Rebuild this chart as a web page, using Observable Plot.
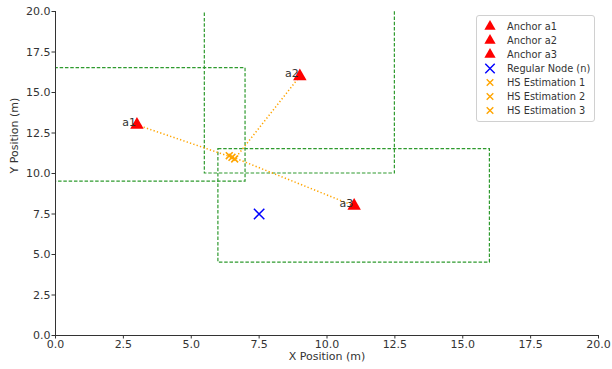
<!DOCTYPE html>
<html><head><meta charset="utf-8">
<script src="https://cdn.jsdelivr.net/npm/d3@7"></script>
<script src="https://cdn.jsdelivr.net/npm/@observablehq/plot@0.6"></script>
<style>
body{margin:0;background:#fff;font-family:"DejaVu Sans",sans-serif}
#wrap{position:relative;width:612px;height:369px}
#legend{position:absolute;left:476px;top:15px;width:119px;height:107px;border:1px solid #d0d0d0;border-radius:3px;background:rgba(255,255,255,0.85);box-sizing:border-box;font-size:9.8px;color:#333}
.row{position:absolute;left:0;height:14px;display:flex;align-items:center;white-space:nowrap}
.row svg{display:block}
</style></head><body><div id="wrap"></div>
<script>
// Data
const anchorNames = ["a1", "a2", "a3"];
const anchorX = [3, 9, 11];
const anchorY = [13, 16, 8];
const nodeX = [7.5];
const nodeY = [7.5];
const estX = [6.5, 6.6, 6.4];
const estY = [11.0, 10.9, 11.1];
const boxX1 = [-1, 5.5, 6];
const boxX2 = [7, 12.5, 16];
const boxY1 = [9.5, 10, 4.5];
const boxY2 = [16.5, 22, 11.5];
const tickValues = [0, 2.5, 5, 7.5, 10, 12.5, 15, 17.5, 20];
const legendLabels = ["Anchor a1", "Anchor a2", "Anchor a3", "Regular Node (n)", "HS Estimation 1", "HS Estimation 2", "HS Estimation 3"];

const anchors = anchorNames.map((n, i) => ({name: n, x: anchorX[i], y: anchorY[i]}));
const nodes = nodeX.map((x, i) => ({x, y: nodeY[i]}));
const ests = estX.map((x, i) => ({x, y: estY[i], ax: anchorX[i], ay: anchorY[i]}));
const boxes = boxX1.map((x1, i) => ({x1, x2: boxX2[i], y1: boxY1[i], y2: boxY2[i]}));
const fmt = d3.format(".1f");

const chart = Plot.plot({
  width: 612, height: 369,
  marginLeft: 55, marginRight: 14, marginTop: 11, marginBottom: 34,
  style: {fontFamily: "DejaVu Sans", fontSize: "11px", color: "#333", background: "#fff"},
  x: {domain: [0, 20]},
  y: {domain: [0, 20]},
  marks: [
    Plot.rect(boxes, {x1: "x1", x2: "x2", y1: "y1", y2: "y2", fill: "none", stroke: "#2e9a2e", strokeWidth: 1.2, strokeDasharray: "3.5,1.8", clip: true}),
    Plot.link(ests, {x1: "ax", y1: "ay", x2: "x", y2: "y", stroke: "orange", strokeWidth: 1.5, strokeDasharray: "1.3,2.2", clip: true}),
    Plot.dot(anchors, {x: "x", y: "y", symbol: "triangle", r: 5, fill: "red", stroke: "none"}),
    Plot.dot(nodes, {x: "x", y: "y", symbol: "times", r: 4.8, stroke: "blue", strokeWidth: 1.5}),
    Plot.dot(ests, {x: "x", y: "y", symbol: "times", r: 3.2, stroke: "orange", strokeWidth: 1.6}),
    Plot.text(anchors, {x: "x", y: "y", text: "name", textAnchor: "end", lineAnchor: "bottom", dy: 1, dx: -1, fontSize: 11, fill: "#333"}),
    Plot.ruleX([0], {stroke: "#333", strokeWidth: 1}),
    Plot.ruleY([0], {stroke: "#333", strokeWidth: 1}),
    Plot.axisX({ticks: tickValues, tickFormat: fmt, tickSize: 3.5, tickPadding: 1, label: null, stroke: "#333", fontSize: 11}),
    Plot.axisY({ticks: tickValues, tickFormat: fmt, tickSize: 3.5, tickPadding: 1.5, label: null, stroke: "#333", fontSize: 11}),
    Plot.text(["X Position (m)"], {frameAnchor: "bottom", dy: 24, fontSize: 11, fill: "#333"}),
    Plot.text(["Y Position (m)"], {frameAnchor: "left", dx: -41, dy: 0, rotate: -90, fontSize: 11, fill: "#333"})
  ]
});
const wrap = document.getElementById("wrap");
wrap.appendChild(chart);

// Legend
const legend = document.createElement("div");
legend.id = "legend";
const symTri = d3.symbol(d3.symbolTriangle, 55)();
const symBig = d3.symbol(d3.symbolTimes, 60)();
const symSmall = d3.symbol(d3.symbolTimes, 30)();
const legendSym = legendLabels.map((l, i) => i < 3 ? {d: symTri, fill: "red", stroke: "none"} : i === 3 ? {d: symBig, fill: "none", stroke: "blue"} : {d: symSmall, fill: "none", stroke: "orange"});
legendLabels.forEach((l, i) => {
  const row = document.createElement("div");
  row.className = "row";
  row.style.top = (3 + i * 14) + "px";
  const s = legendSym[i];
  row.innerHTML = `<svg width="30" height="14"><path transform="translate(13,7.5)" d="${s.d}" fill="${s.fill}" stroke="${s.stroke}" stroke-width="1.4"/></svg><span>${l}</span>`;
  legend.appendChild(row);
});
wrap.appendChild(legend);
</script></body></html>
